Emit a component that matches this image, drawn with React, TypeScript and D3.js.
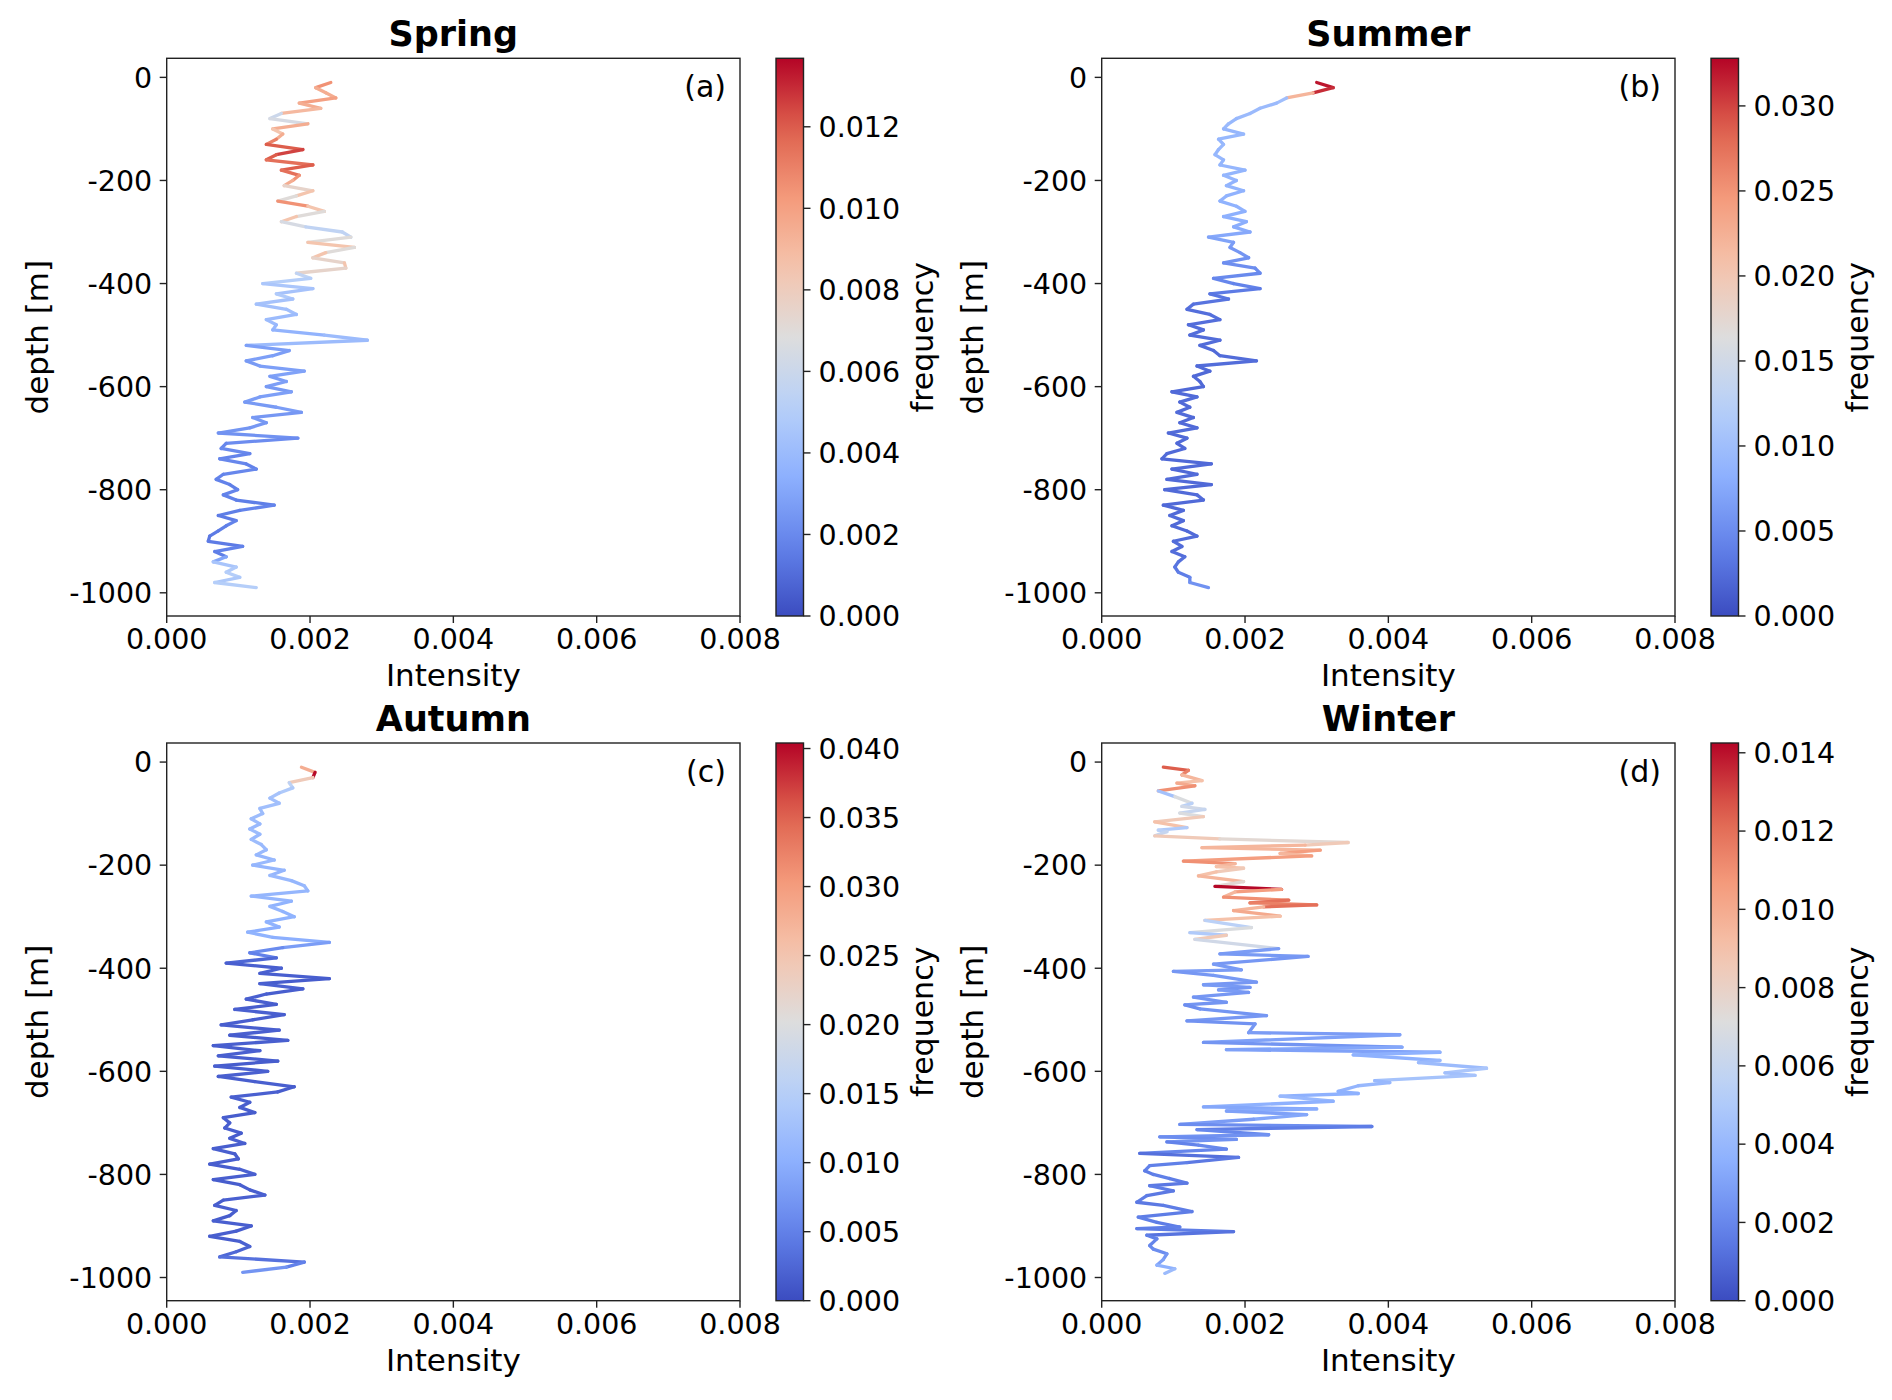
import React from "react";
import * as d3 from "d3";

// ---------- data ----------
const GRID_DEPTH = [
  -10, -20, -30, -40, -50, -60, -70, -80, -90, -100,
  -110, -120, -130, -140, -150, -160, -170, -180, -190, -200,
  -210, -220, -230, -240, -250, -260, -270, -280, -290, -300,
  -310, -320, -330, -340, -350, -360, -370, -380, -390, -400,
  -410, -420, -430, -440, -450, -460, -470, -480, -490, -500,
  -510, -520, -530, -540, -550, -560, -570, -580, -590, -600,
  -610, -620, -630, -640, -650, -660, -670, -680, -690, -700,
  -710, -720, -730, -740, -750, -760, -770, -780, -790, -800,
  -810, -820, -830, -840, -850, -860, -870, -880, -890, -900,
  -910, -920, -930, -940, -950, -960, -970, -980, -990,
];

const SPRING_INTENSITY = [
  0.00229, 0.00208, 0.00222, 0.00236, 0.00185, 0.00215, 0.0016, 0.00144, 0.00197, 0.00148,
  0.00162, 0.00153, 0.00139, 0.0019, 0.00153, 0.00139, 0.00204, 0.0016, 0.00185, 0.00176,
  0.00164, 0.00204, 0.00181, 0.00155, 0.00197, 0.0022, 0.00181, 0.0016, 0.00194, 0.00245,
  0.00257, 0.00197, 0.00262, 0.00222, 0.00204, 0.00248, 0.0025, 0.00181, 0.00201, 0.00134,
  0.00204, 0.00153, 0.00176, 0.00125, 0.00167, 0.00181, 0.00139, 0.00153, 0.00148, 0.0022,
  0.0028, 0.00111, 0.00171, 0.00148, 0.00111, 0.0013, 0.00192, 0.00144, 0.00167, 0.00139,
  0.00174, 0.0013, 0.00109, 0.00153, 0.00188, 0.0012, 0.00139, 0.00116, 0.00072, 0.00183,
  0.00083, 0.00076, 0.00116, 0.00074, 0.00111, 0.00125, 0.00079, 0.00069, 0.00088, 0.00099,
  0.00079, 0.00097, 0.0015, 0.00102, 0.00072, 0.00097, 0.00083, 0.00072, 0.0006, 0.00058,
  0.00106, 0.00067, 0.00083, 0.00065, 0.00097, 0.00083, 0.00102, 0.00067, 0.00125,
];
const SPRING_FREQ = [
  0.0105, 0.0095, 0.0095, 0.01, 0.0095, 0.009, 0.006, 0.0065, 0.0095, 0.0085,
  0.0095, 0.011, 0.012, 0.0125, 0.012, 0.0115, 0.012, 0.0115, 0.0105, 0.0095,
  0.0075, 0.0085, 0.007, 0.0105, 0.0085, 0.007, 0.0085, 0.0065, 0.0055, 0.0055,
  0.007, 0.0085, 0.007, 0.0085, 0.0075, 0.0085, 0.0075, 0.0055, 0.005, 0.0046,
  0.0044, 0.0048, 0.0044, 0.0043, 0.0042, 0.004, 0.004, 0.0038, 0.0036, 0.004,
  0.004, 0.0028, 0.0027, 0.0028, 0.0026, 0.0028, 0.0029, 0.0027, 0.0028, 0.0026,
  0.0028, 0.0027, 0.0026, 0.0027, 0.0025, 0.0026, 0.0025, 0.0024, 0.0023, 0.0021,
  0.0019, 0.002, 0.0018, 0.0019, 0.0017, 0.0019, 0.0018, 0.0017, 0.0016, 0.0018,
  0.0017, 0.0016, 0.0018, 0.0016, 0.0015, 0.0017, 0.0016, 0.0015, 0.0014, 0.0015,
  0.0017, 0.0016, 0.003, 0.0045, 0.0048, 0.005, 0.0047, 0.005, 0.0048,
];

const SUMMER_INTENSITY = [
  0.003, 0.00323, 0.00295, 0.00258, 0.00244, 0.00221, 0.00207, 0.00188, 0.00177, 0.0017,
  0.00198, 0.00163, 0.0017, 0.00163, 0.00158, 0.0017, 0.00165, 0.002, 0.0017, 0.00188,
  0.00174, 0.00198, 0.00174, 0.00165, 0.00188, 0.002, 0.0017, 0.00202, 0.00184, 0.00207,
  0.00149, 0.00184, 0.00179, 0.00193, 0.00205, 0.0017, 0.00214, 0.00221, 0.00156, 0.00184,
  0.00221, 0.00151, 0.00177, 0.00128, 0.00119, 0.00151, 0.00165, 0.00121, 0.00142, 0.00123,
  0.00165, 0.00137, 0.00156, 0.00165, 0.00216, 0.00133, 0.00151, 0.00128, 0.00137, 0.00142,
  0.00098, 0.00133, 0.00109, 0.00123, 0.00105, 0.00128, 0.00109, 0.00133, 0.00093, 0.00119,
  0.00105, 0.00116, 0.00091, 0.00084, 0.00153, 0.00098, 0.00133, 0.00091, 0.00153, 0.00088,
  0.00133, 0.00142, 0.00086, 0.00114, 0.00095, 0.00114, 0.00098, 0.00119, 0.00133, 0.001,
  0.00112, 0.00098, 0.00116, 0.00107, 0.00102, 0.00107, 0.00123, 0.00123, 0.00149,
];
const SUMMER_FREQ = [
  0.032, 0.031, 0.022, 0.01, 0.0095, 0.0095, 0.0095, 0.0092, 0.0095, 0.009,
  0.0092, 0.009, 0.0093, 0.009, 0.0092, 0.0088, 0.009, 0.0088, 0.009, 0.0086,
  0.0088, 0.0085, 0.0086, 0.0084, 0.0085, 0.0083, 0.0082, 0.008, 0.0078, 0.0075,
  0.007, 0.0065, 0.006, 0.0058, 0.0055, 0.0052, 0.005, 0.0048, 0.0045, 0.0042,
  0.0036, 0.0032, 0.003, 0.0028, 0.0026, 0.0027, 0.0026, 0.0025, 0.0026, 0.0024,
  0.0025, 0.0024, 0.0023, 0.0024, 0.0025, 0.0023, 0.0022, 0.0023, 0.0022, 0.0022,
  0.0023, 0.0024, 0.0022, 0.0023, 0.0024, 0.0022, 0.0023, 0.0024, 0.0022, 0.0023,
  0.0022, 0.0023, 0.0024, 0.0022, 0.0023, 0.0022, 0.0024, 0.0023, 0.0022, 0.0023,
  0.0024, 0.0023, 0.0022, 0.0023, 0.0024, 0.0023, 0.0022, 0.0023, 0.0024, 0.0025,
  0.0024, 0.0025, 0.0027, 0.003, 0.0033, 0.0038, 0.0045, 0.0055, 0.0065,
];

const AUTUMN_INTENSITY = [
  0.00188, 0.00207, 0.00204, 0.00171, 0.00176, 0.00157, 0.00144, 0.00157, 0.0013, 0.00134,
  0.00118, 0.0013, 0.00116, 0.0013, 0.00118, 0.00132, 0.00139, 0.00125, 0.0015, 0.0012,
  0.00164, 0.00144, 0.00174, 0.00192, 0.00197, 0.00118, 0.00174, 0.00144, 0.00162, 0.00178,
  0.00139, 0.00157, 0.00113, 0.00148, 0.00227, 0.00162, 0.00116, 0.00153, 0.00083, 0.0016,
  0.0013, 0.00227, 0.0013, 0.0019, 0.00139, 0.00111, 0.00153, 0.00095, 0.00164, 0.0012,
  0.00076, 0.00157, 0.00088, 0.00169, 0.00065, 0.0013, 0.00072, 0.00155, 0.00067, 0.00141,
  0.00072, 0.00123, 0.00178, 0.00155, 0.0009, 0.00116, 0.00102, 0.00123, 0.00079, 0.00088,
  0.00081, 0.00104, 0.00088, 0.00109, 0.00065, 0.00095, 0.001, 0.0006, 0.00102, 0.00123,
  0.00065, 0.00102, 0.00116, 0.00137, 0.00079, 0.00067, 0.00097, 0.00088, 0.00065, 0.00118,
  0.00097, 0.0006, 0.00102, 0.00116, 0.00097, 0.00074, 0.00192, 0.00167, 0.00106,
];
const AUTUMN_FREQ = [
  0.028, 0.04, 0.024, 0.016, 0.014, 0.013, 0.0125, 0.0125, 0.012, 0.012,
  0.012, 0.0115, 0.012, 0.0115, 0.012, 0.0115, 0.0115, 0.011, 0.0115, 0.011,
  0.011, 0.0115, 0.011, 0.0115, 0.011, 0.011, 0.0105, 0.011, 0.0105, 0.0105,
  0.0105, 0.01, 0.0105, 0.01, 0.008, 0.006, 0.005, 0.0025, 0.0018, 0.002,
  0.0018, 0.0016, 0.002, 0.0017, 0.0019, 0.0018, 0.0016, 0.0019, 0.0017, 0.0018,
  0.0017, 0.0019, 0.0016, 0.0018, 0.0017, 0.0019, 0.0018, 0.0016, 0.0018, 0.0019,
  0.0017, 0.0018, 0.0016, 0.0019, 0.0018, 0.0017, 0.0018, 0.0016, 0.0019, 0.0017,
  0.0018, 0.0016, 0.0019, 0.0017, 0.0018, 0.0016, 0.0018, 0.0017, 0.0019, 0.0018,
  0.0016, 0.0018, 0.0017, 0.0019, 0.0016, 0.0018, 0.0017, 0.0016, 0.0018, 0.0017,
  0.0018, 0.0017, 0.002, 0.0022, 0.0026, 0.0035, 0.005, 0.007, 0.008,
];

const WINTER_DEPTH = [
  -10, -16, -25, -36, -41, -46, -56, -67, -80, -86,
  -92, -99, -106, -116, -127, -132, -135, -143, -149, -156,
  -161, -166, -171, -177, -182, -192, -197, -203, -206, -213,
  -221, -232, -241, -247, -252, -262, -268, -273, -277, -281,
  -288, -299, -307, -321, -331, -336, -344, -362, -372, -377,
  -392, -403, -406, -414, -427, -432, -437, -442, -447, -456,
  -466, -471, -479, -492, -502, -508, -525, -529, -544, -553,
  -558, -563, -568, -579, -583, -594, -603, -608, -618, -622,
  -628, -639, -643, -648, -658, -669, -673, -677, -684, -693,
  -703, -707, -713, -723, -727, -732, -737, -743, -751, -759,
  -767, -777, -783, -793, -800, -808, -817, -822, -832, -841,
  -854, -860, -872, -883, -893, -902, -905, -911, -918, -925,
  -938, -945, -954, -965, -976, -983, -992,
];
const WINTER_INTENSITY = [
  0.00086, 0.00121, 0.00112, 0.0014, 0.00105, 0.0013, 0.00079, 0.00102, 0.00126, 0.00112,
  0.00144, 0.00109, 0.00142, 0.00074, 0.00119, 0.00079, 0.00091, 0.00074, 0.00165, 0.00344,
  0.00284, 0.0014, 0.00305, 0.00249, 0.00293, 0.00114, 0.00186, 0.0016, 0.00198, 0.0016,
  0.00135, 0.00198, 0.00158, 0.00251, 0.00186, 0.0017, 0.00261, 0.00207, 0.003, 0.00226,
  0.00184, 0.00249, 0.00144, 0.00209, 0.00123, 0.00174, 0.0013, 0.00247, 0.00165, 0.00288,
  0.00156, 0.00195, 0.001, 0.00156, 0.00216, 0.00142, 0.00207, 0.00163, 0.00205, 0.00128,
  0.00174, 0.00116, 0.00137, 0.0023, 0.00119, 0.00214, 0.00205, 0.00416, 0.00142, 0.00419,
  0.00174, 0.00472, 0.00351, 0.00472, 0.00442, 0.00537, 0.00479, 0.00521, 0.00381, 0.00402,
  0.00358, 0.0033, 0.00358, 0.00249, 0.00323, 0.00142, 0.003, 0.00174, 0.00286, 0.00212,
  0.00109, 0.00377, 0.00133, 0.00233, 0.00081, 0.00188, 0.00091, 0.00135, 0.00174, 0.00053,
  0.00191, 0.00119, 0.00067, 0.0006, 0.00072, 0.00095, 0.00119, 0.00067, 0.001, 0.00063,
  0.00049, 0.00086, 0.00126, 0.00051, 0.00077, 0.00109, 0.00049, 0.00184, 0.00063, 0.00077,
  0.00067, 0.00072, 0.00091, 0.00086, 0.00077, 0.00102, 0.00088,
];
const WINTER_FREQ = [
  0.0125, 0.0115, 0.0095, 0.009, 0.01, 0.011, 0.0045, 0.007, 0.0055, 0.0065,
  0.006, 0.007, 0.0085, 0.009, 0.005, 0.0055, 0.006, 0.0085, 0.0075, 0.0085,
  0.0095, 0.0095, 0.0105, 0.0095, 0.0105, 0.011, 0.0095, 0.009, 0.0085, 0.009,
  0.0095, 0.0075, 0.0142, 0.0105, 0.0095, 0.011, 0.012, 0.0115, 0.012, 0.0095,
  0.01, 0.009, 0.0055, 0.007, 0.005, 0.0085, 0.0065, 0.0028, 0.0027, 0.0026,
  0.0027, 0.0028, 0.0026, 0.0027, 0.0026, 0.0027, 0.0025, 0.0028, 0.0026, 0.0025,
  0.0025, 0.0022, 0.0025, 0.0026, 0.0024, 0.0026, 0.0028, 0.003, 0.0025, 0.0032,
  0.003, 0.0036, 0.0036, 0.004, 0.0042, 0.0048, 0.0044, 0.0046, 0.004, 0.004,
  0.0038, 0.0036, 0.0036, 0.004, 0.0036, 0.0032, 0.0034, 0.003, 0.0032, 0.0028,
  0.0022, 0.0016, 0.002, 0.0024, 0.0022, 0.0024, 0.0018, 0.002, 0.0019, 0.0012,
  0.0015, 0.0017, 0.0018, 0.0016, 0.0017, 0.0016, 0.0015, 0.0016, 0.0015, 0.0016,
  0.0015, 0.0016, 0.0016, 0.0017, 0.0016, 0.0017, 0.0016, 0.0013, 0.0017, 0.0019,
  0.002, 0.0022, 0.0026, 0.003, 0.0036, 0.0042, 0.004,
];

const TITLES = ["Spring", "Summer", "Autumn", "Winter"];
const LETTERS = ["(a)", "(b)", "(c)", "(d)"];
const CB_MAX = [0.01368, 0.0328, 0.0404, 0.01425];
const CB_TICKS = [
  [0, 0.002, 0.004, 0.006, 0.008, 0.01, 0.012],
  [0, 0.005, 0.01, 0.015, 0.02, 0.025, 0.03],
  [0, 0.005, 0.01, 0.015, 0.02, 0.025, 0.03, 0.035, 0.04],
  [0, 0.002, 0.004, 0.006, 0.008, 0.01, 0.012, 0.014],
];
const X_TICKS = [0, 0.002, 0.004, 0.006, 0.008];
const Y_TICKS = [0, -200, -400, -600, -800, -1000];

const SERIES = [
  { depth: GRID_DEPTH, intensity: SPRING_INTENSITY, freq: SPRING_FREQ },
  { depth: GRID_DEPTH, intensity: SUMMER_INTENSITY, freq: SUMMER_FREQ },
  { depth: GRID_DEPTH, intensity: AUTUMN_INTENSITY, freq: AUTUMN_FREQ },
  { depth: WINTER_DEPTH, intensity: WINTER_INTENSITY, freq: WINTER_FREQ },
];

// ---------- styling ----------
const COOLWARM_STOPS = [
  "#3b4cc0", "#6282ea", "#8db0fe", "#b8d0f9", "#dddddd",
  "#f5c4ad", "#f49a7b", "#de604d", "#b40426",
];
const coolwarm = d3.piecewise(d3.interpolateRgb, COOLWARM_STOPS);

const FONT = "'DejaVu Sans', Verdana, sans-serif";
const AX_W = 573.3;
const AX_H = 557.7;
const ORIGINS = [
  { x: 166.7, y: 58.3 },
  { x: 1101.7, y: 58.3 },
  { x: 166.7, y: 743 },
  { x: 1101.7, y: 743 },
];
const X_DOMAIN = [0, 0.008];
const Y_DOMAIN = [37, -1045];
const SPINE = "#222";

function Panel({ idx }: { idx: number }) {
  const { x: x0, y: y0 } = ORIGINS[idx];
  const s = SERIES[idx];
  const xs = d3.scaleLinear().domain(X_DOMAIN).range([x0, x0 + AX_W]);
  const ys = d3.scaleLinear().domain(Y_DOMAIN).range([y0, y0 + AX_H]);
  const norm = d3.scaleLinear().domain([0, CB_MAX[idx]]).range([0, 1]).clamp(true);
  const n = Math.min(s.depth.length, s.intensity.length, s.freq.length);

  const segs = [] as { x1: number; y1: number; x2: number; y2: number; c: string }[];
  for (let i = 0; i < n - 1; i++) {
    segs.push({
      x1: xs(s.intensity[i]),
      y1: ys(s.depth[i]),
      x2: xs(s.intensity[i + 1]),
      y2: ys(s.depth[i + 1]),
      c: coolwarm(norm(s.freq[i])),
    });
  }

  const cbX = x0 + AX_W + 36;
  const cbW = 27.5;
  const cbScale = d3.scaleLinear().domain([0, CB_MAX[idx]]).range([y0 + AX_H, y0]);
  const gradId = `cw-grad-${idx}`;
  const gradStops = d3.range(0, 1.0001, 0.05);

  const bottom = y0 + AX_H;
  const right = x0 + AX_W;

  return (
    <g>
      <defs>
        <linearGradient id={gradId} x1="0" y1="1" x2="0" y2="0">
          {gradStops.map((t) => (
            <stop key={t} offset={`${t * 100}%`} stopColor={coolwarm(t)} />
          ))}
        </linearGradient>
      </defs>

      {/* title */}
      <text
        x={(x0 + right) / 2}
        y={y0 - 12}
        textAnchor="middle"
        fontFamily={FONT}
        fontWeight="bold"
        fontSize={35}
        fill="#000"
      >
        {TITLES[idx]}
      </text>

      {/* data */}
      <g strokeWidth={3.3} strokeLinecap="round" fill="none">
        {segs.map((g, i) => (
          <line key={i} x1={g.x1} y1={g.y1} x2={g.x2} y2={g.y2} stroke={g.c} />
        ))}
      </g>

      {/* frame */}
      <rect x={x0} y={y0} width={AX_W} height={AX_H} fill="none" stroke={SPINE} strokeWidth={1.4} />

      {/* x ticks */}
      {X_TICKS.map((t) => (
        <g key={`x${t}`}>
          <line x1={xs(t)} x2={xs(t)} y1={bottom} y2={bottom + 7} stroke={SPINE} strokeWidth={1.4} />
          <text
            x={xs(t)}
            y={bottom + 33}
            textAnchor="middle"
            fontFamily={FONT}
            fontSize={28.5}
            fill="#000"
          >
            {t.toFixed(3)}
          </text>
        </g>
      ))}
      <text
        x={(x0 + right) / 2}
        y={bottom + 70}
        textAnchor="middle"
        fontFamily={FONT}
        fontSize={31}
        fill="#000"
      >
        Intensity
      </text>

      {/* y ticks */}
      {Y_TICKS.map((t) => (
        <g key={`y${t}`}>
          <line x1={x0 - 7} x2={x0} y1={ys(t)} y2={ys(t)} stroke={SPINE} strokeWidth={1.4} />
          <text
            x={x0 - 14.5}
            y={ys(t)}
            dy="0.36em"
            textAnchor="end"
            fontFamily={FONT}
            fontSize={28.5}
            fill="#000"
          >
            {String(t)}
          </text>
        </g>
      ))}
      <text
        transform={`translate(${x0 - 118.7},${(y0 + bottom) / 2}) rotate(-90)`}
        textAnchor="middle"
        fontFamily={FONT}
        fontSize={31}
        fill="#000"
      >
        depth [m]
      </text>

      {/* panel letter */}
      <text
        x={right - 14}
        y={y0 + 38.5}
        textAnchor="end"
        fontFamily={FONT}
        fontSize={30}
        fill="#000"
      >
        {LETTERS[idx]}
      </text>

      {/* colorbar */}
      <rect x={cbX} y={y0} width={cbW} height={AX_H} fill={`url(#${gradId})`} />
      <rect x={cbX} y={y0} width={cbW} height={AX_H} fill="none" stroke={SPINE} strokeWidth={1.4} />
      {CB_TICKS[idx].map((t) => (
        <g key={`c${t}`}>
          <line
            x1={cbX + cbW}
            x2={cbX + cbW + 7}
            y1={cbScale(t)}
            y2={cbScale(t)}
            stroke={SPINE}
            strokeWidth={1.4}
          />
          <text
            x={cbX + cbW + 15}
            y={cbScale(t)}
            dy="0.36em"
            textAnchor="start"
            fontFamily={FONT}
            fontSize={28.5}
            fill="#000"
          >
            {t.toFixed(3)}
          </text>
        </g>
      ))}
      <text
        transform={`translate(${cbX + 157},${(y0 + bottom) / 2}) rotate(-90)`}
        textAnchor="middle"
        fontFamily={FONT}
        fontSize={30}
        fill="#000"
      >
        frequency
      </text>
    </g>
  );
}

export default function App() {
  return (
    <div style={{ position: "absolute", left: 0, top: 0 }}>
      <svg width={1892} height={1400} viewBox="0 0 1892 1400" style={{ display: "block", background: "#fff" }}>
        <rect x={0} y={0} width={1892} height={1400} fill="#fff" />
        {[0, 1, 2, 3].map((i) => (
          <Panel key={i} idx={i} />
        ))}
      </svg>
    </div>
  );
}
